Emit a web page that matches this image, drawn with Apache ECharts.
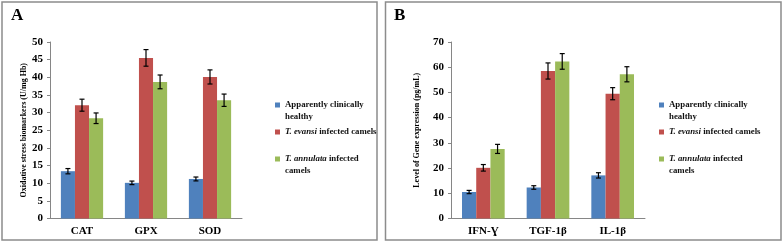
<!DOCTYPE html>
<html>
<head>
<meta charset="utf-8">
<script src="https://cdn.jsdelivr.net/npm/echarts@6/dist/echarts.min.js"></script>
<style>
  html, body { margin: 0; padding: 0; background: #fff; }
  #chart { width: 783px; height: 243px; }
</style>
</head>
<body>
<div id="chart"></div>
<script>
// panel A - oxidative stress
const catsA = ['CAT', 'GPX', 'SOD'];
const healthyA = [13.4, 10.1, 11.2];
const healthyErrA = [0.75, 0.5, 0.55];
const evansiA = [32.1, 45.5, 40.1];
const evansiErrA = [1.7, 2.35, 2.0];
const annulataA = [28.4, 38.7, 33.5];
const annulataErrA = [1.5, 1.95, 1.75];

// panel B - gene expression
const catsB = ['IFN-Ɣ', 'TGF-1β', 'IL-1β'];
const healthyB = [10.5, 12.3, 17.1];
const healthyErrB = [0.65, 0.7, 1.05];
const evansiB = [20.1, 58.5, 49.5];
const evansiErrB = [1.3, 3.2, 2.4];
const annulataB = [27.6, 62.3, 57.2];
const annulataErrB = [1.8, 3.1, 3.0];

const names = ['Apparently clinically healthy', 'T. evansi infected camels', 'T. annulata infected camels'];
const colors = ['#4F81BD', '#C0504D', '#9BBB59'];
const serif = "'Liberation Serif', 'Times New Roman', serif";

let chart = echarts.init(document.getElementById('chart'), null, { renderer: 'canvas' });

// error bars drawn over bar k of the group (k = 0,1,2)
function errRender(k) {
  return function (params, api) {
    let x = api.value(0), v = api.value(1), e = api.value(2);
    let band = api.size([1, 0])[0];
    let bw = band * 0.66 / 3;
    let cx = api.coord([x, v])[0] + (k - 1) * bw;
    let top = api.coord([x, v + e])[1];
    let bot = api.coord([x, v - e])[1];
    let st = { stroke: '#000', lineWidth: 1.2 };
    return {
      type: 'group',
      children: [
        { type: 'line', shape: { x1: cx, y1: top, x2: cx, y2: bot }, style: st },
        { type: 'line', shape: { x1: cx - 2.5, y1: top, x2: cx + 2.5, y2: top }, style: st },
        { type: 'line', shape: { x1: cx - 2.5, y1: bot, x2: cx + 2.5, y2: bot }, style: st }
      ]
    };
  };
}

function bars(vals, i, axis) {
  return {
    name: names[i],
    type: 'bar',
    xAxisIndex: axis,
    yAxisIndex: axis,
    data: vals,
    barGap: '0%',
    barCategoryGap: '34%',
    itemStyle: { color: colors[i] },
    silent: true
  };
}

function errs(vals, errsArr, i, axis) {
  return {
    name: 'err' + axis + i,
    type: 'custom',
    xAxisIndex: axis,
    yAxisIndex: axis,
    renderItem: errRender(i),
    data: vals.map((v, j) => [j, v, errsArr[j]]),
    z: 5,
    silent: true
  };
}

function legendFor(left) {
  return {
    orient: 'vertical',
    left: left,
    top: 82,
    itemWidth: 5,
    itemHeight: 5,
    itemGap: 3,
    selectedMode: false,
    icon: 'rect',
    data: [
      { name: names[0], textStyle: { padding: [12, 0, 0, 0] } },
      { name: names[1] },
      { name: names[2], textStyle: { padding: [12, 0, 0, 0] } }
    ],
    formatter: function (name) {
      if (name === names[0]) return 'Apparently clinically\nhealthy';
      if (name === names[1]) return '{i|T. evansi} infected camels';
      return '{i|T. annulata} infected\ncamels';
    },
    textStyle: {
      fontFamily: serif,
      fontWeight: 'bold',
      fontSize: 8.8,
      lineHeight: 12,
      color: '#111',
      rich: {
        i: { fontFamily: serif, fontWeight: 'bold', fontStyle: 'italic', fontSize: 8.8, lineHeight: 12, color: '#111' }
      }
    }
  };
}

function xAx(cats, grid) {
  return {
    type: 'category',
    gridIndex: grid,
    data: cats,
    axisLine: { lineStyle: { color: '#868686', width: 1 } },
    axisTick: { lineStyle: { color: '#868686' }, length: 4 },
    axisLabel: { color: '#000', fontFamily: serif, fontWeight: 'bold', fontSize: 11, margin: 7 }
  };
}

function yAx(max, interval, name, gap, grid) {
  return {
    type: 'value',
    gridIndex: grid,
    min: 0,
    max: max,
    interval: interval,
    name: name,
    nameLocation: 'middle',
    nameGap: gap,
    nameTextStyle: { fontFamily: serif, fontWeight: 'bold', fontSize: 8, color: '#000' },
    splitLine: { show: false },
    axisLine: { show: true, lineStyle: { color: '#868686', width: 1 } },
    axisTick: { show: true, inside: false, length: 3, lineStyle: { color: '#868686' } },
    axisLabel: { color: '#000', fontFamily: serif, fontWeight: 'bold', fontSize: 11, margin: 7 }
  };
}

let option = {
  backgroundColor: '#fff',
  animation: false,
  title: [
    { text: 'A', left: 6, top: 2, textStyle: { fontFamily: serif, fontWeight: 'bold', fontSize: 17, color: '#000' } },
    { text: 'B', left: 389, top: 2, textStyle: { fontFamily: serif, fontWeight: 'bold', fontSize: 17, color: '#000' } }
  ],
  graphic: [
    { type: 'rect', shape: { x: 2, y: 2, width: 375, height: 238 }, style: { fill: 'none', stroke: '#8c8c8c', lineWidth: 1.5 } },
    { type: 'rect', shape: { x: 385.5, y: 2, width: 395.5, height: 238 }, style: { fill: 'none', stroke: '#8c8c8c', lineWidth: 1.5 } }
  ],
  legend: [legendFor(270), legendFor(654)],
  grid: [
    { left: 50, top: 42, width: 192, height: 176.5 },
    { left: 451, top: 42, width: 194, height: 176.5 }
  ],
  xAxis: [xAx(catsA, 0), xAx(catsB, 1)],
  yAxis: [
    yAx(50, 5, 'Oxidative stress biomarkers (U/mg Hb)', 22, 0),
    yAx(70, 10, 'Level of Gene expression (pg/mL)', 30, 1)
  ],
  series: [
    bars(healthyA, 0, 0), bars(evansiA, 1, 0), bars(annulataA, 2, 0),
    bars(healthyB, 0, 1), bars(evansiB, 1, 1), bars(annulataB, 2, 1),
    errs(healthyA, healthyErrA, 0, 0), errs(evansiA, evansiErrA, 1, 0), errs(annulataA, annulataErrA, 2, 0),
    errs(healthyB, healthyErrB, 0, 1), errs(evansiB, evansiErrB, 1, 1), errs(annulataB, annulataErrB, 2, 1)
  ]
};

chart.setOption(option);
</script>
</body>
</html>
